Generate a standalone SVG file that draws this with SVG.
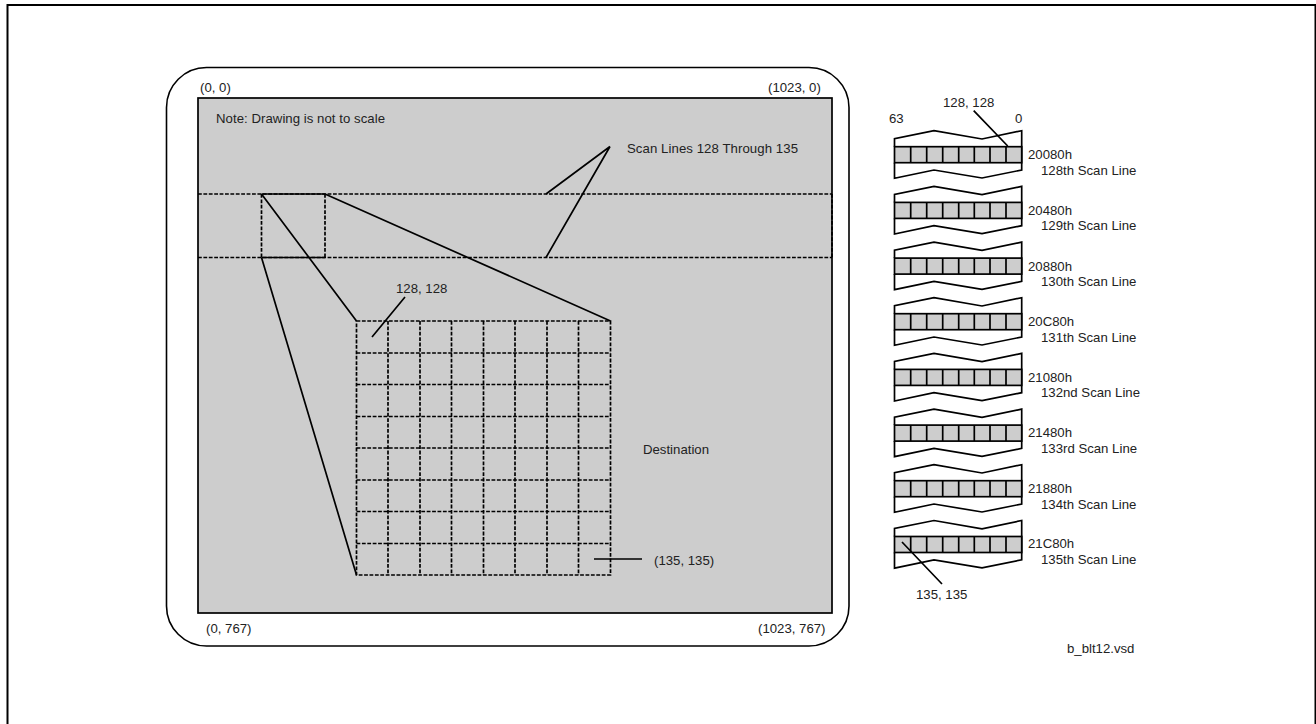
<svg xmlns="http://www.w3.org/2000/svg" width="1316" height="724" viewBox="0 0 1316 724">
<style>
text{font-family:"Liberation Sans",Arial,sans-serif;font-size:13.2px;fill:#222}
.l{fill:none;stroke:#000;stroke-width:1.7}
.d{fill:none;stroke:#000;stroke-width:1.7;stroke-dasharray:3.800 1.600}
.c{fill:#cdcdcd;stroke:#000;stroke-width:1.7}
</style>
<defs>
<g id="seg">
<path class="l" d="M894.500 146.700V138.700L934 130.700L982 139L1021.700 130.700V170L982 178L934 170L894.500 178.300V162.700"/>
<rect class="c" x="894.500" y="146.700" width="127.200" height="16"/>
<path class="l" d="M910.700 146.700v16M926.700 146.700v16M942.700 146.700v16M958.700 146.700v16M974.300 146.700v16M990 146.700v16M1006 146.700v16"/>
</g>
</defs>
<rect id="frame" x="7.500" y="5" width="1308" height="760" fill="none" stroke="#000" stroke-width="2"/>
<g id="screen">
<rect x="166.500" y="67.500" width="682.500" height="578.500" rx="40" fill="#fff" stroke="#000" stroke-width="1.6"/>
<rect x="198" y="98" width="634" height="515" class="c"/>
<text x="200" y="92">(0, 0)</text>
<text x="768" y="92">(1023, 0)</text>
<text x="206" y="633">(0, 767)</text>
<text x="758" y="633">(1023, 767)</text>
<text x="216" y="123" textLength="169">Note: Drawing is not to scale</text>
<text x="627" y="153" textLength="171">Scan Lines 128 Through 135</text>
<text x="643" y="454">Destination</text>
<text x="654" y="565">(135, 135)</text>
<text x="396" y="293">128, 128</text>
</g>
<g id="destination">
<path class="d" d="M198 194H832M198 257.500H832M832 194V257.500M261.500 194V257.500M325 194V257.500"/>
<rect class="d" x="356.500" y="321" width="254" height="254"/>
<path class="d" d="M388 321V575M420 321V575M451.500 321V575M483.500 321V575M515 321V575M547 321V575M578.500 321V575M356.500 353H610.500M356.500 384.500H610.500M356.500 416.500H610.500M356.500 448H610.500M356.500 480H610.500M356.500 511.500H610.500M356.500 543.500H610.500"/>
</g>
<g id="segments">
<use href="#seg"/>
<use href="#seg" y="55.700"/>
<use href="#seg" y="111.400"/>
<use href="#seg" y="167"/>
<use href="#seg" y="222.700"/>
<use href="#seg" y="278.400"/>
<use href="#seg" y="334"/>
<use href="#seg" y="389.800"/>
</g>
<g id="connectors">
<path class="l" d="M261.500 194H325M261.500 257.500H325M261.500 194L356.500 321M325 194L610.500 321M261.500 257.500L356.500 575M546 194L610 146.500M546 257.500L610 146.500M372 337L405 297M594 559H642"/>
<path class="l" d="M973.700 110.700L1007.700 146M902 542L942 584"/>
</g>
<g id="segment-labels">
<text x="943" y="107">128, 128</text>
<text x="889" y="123">63</text>
<text x="1015" y="123">0</text>
<text x="1028" y="159">20080h</text><text x="1041" y="175">128th Scan Line</text>
<text x="1028" y="215">20480h</text><text x="1041" y="230">129th Scan Line</text>
<text x="1028" y="271">20880h</text><text x="1041" y="286">130th Scan Line</text>
<text x="1028" y="326">20C80h</text><text x="1041" y="342">131th Scan Line</text>
<text x="1028" y="382">21080h</text><text x="1041" y="397">132nd Scan Line</text>
<text x="1028" y="437">21480h</text><text x="1041" y="453">133rd Scan Line</text>
<text x="1028" y="493">21880h</text><text x="1041" y="509">134th Scan Line</text>
<text x="1028" y="548">21C80h</text><text x="1041" y="564">135th Scan Line</text>
<text x="916" y="599">135, 135</text>
<text x="1067" y="653">b_blt12.vsd</text>
</g>
</svg>
